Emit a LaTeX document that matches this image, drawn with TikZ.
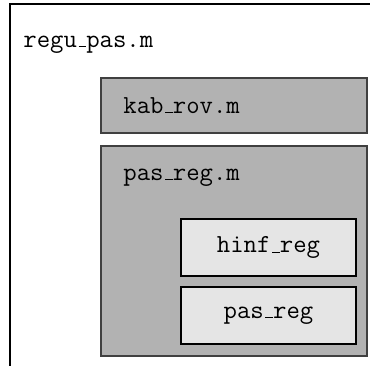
\documentclass[tikz,border=0pt]{standalone}
\newcommand\lowbar{\leavevmode\kern.06em\vbox{\hrule width.3em}}
\begin{document}
\begin{tikzpicture}[x=0.5pt,y=-0.5pt,
  outerbox/.style={draw=black!75,fill=black!30,line width=0.6pt,minimum width=133pt,inner sep=0pt},
  innerbox/.style={draw=black,fill=black!10,line width=0.6pt,minimum width=87.5pt,minimum height=28.5pt,inner sep=0pt,font=\fontsize{13}{15}\selectfont\ttfamily},
  lbl/.style={anchor=base west,inner sep=0pt,font=\fontsize{13}{15}\selectfont\ttfamily}]
\useasboundingbox (0,0) rectangle (370,365);
\draw[line width=0.6pt] (10,370) -- (10,4) -- (375,4);
\node[lbl] (regu) at (23,47) {regu\lowbar pas.m};
\node[outerbox,minimum height=27.5pt] (kab) at (234,105.5) {};
\node[lbl] (kablbl) at (123,113) {kab\lowbar rov.m};
\node[outerbox,minimum height=105pt] (pasm) at (234,251) {};
\node[lbl] (pasmlbl) at (123,180) {pas\lowbar reg.m};
\node[innerbox] (hinf) at (268.5,247.5) {hinf\lowbar reg};
\node[innerbox] (pas) at (268.5,315.5) {pas\lowbar reg};
\end{tikzpicture}
\end{document}
